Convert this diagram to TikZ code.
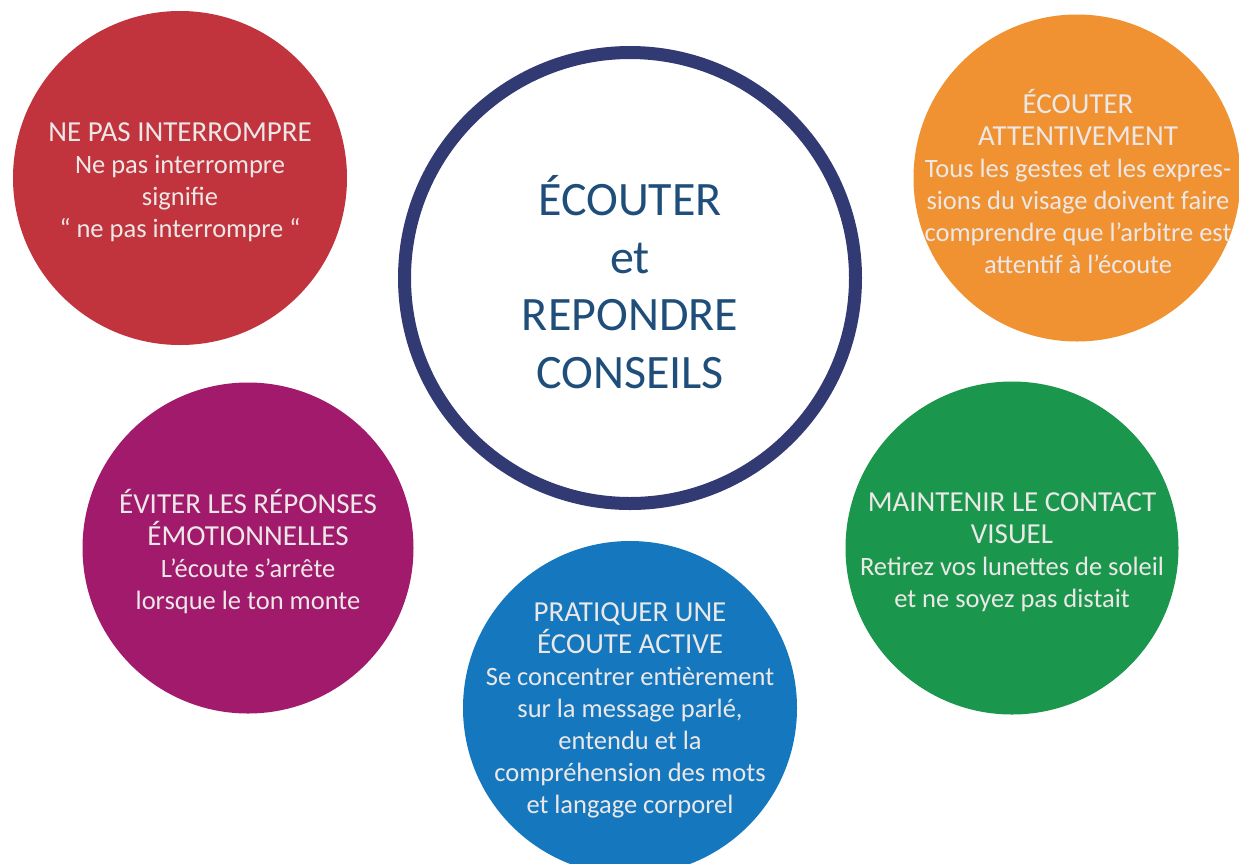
\documentclass[tikz,border=0pt]{standalone}
\usepackage{fontspec}
\setmainfont{Carlito}
\definecolor{cred}{HTML}{C1343D}
\definecolor{corange}{HTML}{F09231}
\definecolor{cpurple}{HTML}{A11A6C}
\definecolor{cgreen}{HTML}{1A974C}
\definecolor{cblue}{HTML}{1578BE}
\definecolor{cring}{HTML}{313A73}
\definecolor{ctitle}{HTML}{1F4E7A}
\definecolor{ctext}{HTML}{ECE8E8}
\newcommand{\tsz}{\fontsize{29}{34.5}\selectfont}
\newcommand{\bsz}{\fontsize{26.5}{32}\selectfont}
\begin{document}
\begin{tikzpicture}[x=1pt,y=-1pt,
  disc/.style={circle,inner sep=0pt,minimum size=#1},
  bubbletext/.style={text=ctext,align=center,inner sep=0pt,font=\bsz},
  centertext/.style={text=ctitle,align=center,inner sep=0pt,font=\fontsize{48}{57.5}\selectfont}]
\useasboundingbox (0,0) rectangle (1239,863);
\fill[white] (0,0) rectangle (1239,863);
% discs
\node[disc=334pt,fill=cred] (red) at (180,178) {};
\node[disc=327pt,fill=corange] (orange) at (1077,178) {};
\node[disc=331pt,fill=cpurple] (purple) at (248,548) {};
\node[disc=333pt,fill=cgreen] (green) at (1012,548) {};
\node[disc=334pt,fill=cblue] (blue) at (630,708) {};
\node[disc=451pt,draw=cring,line width=13pt,fill=white] (center) at (630,278) {};
% texts
\node[centertext] (ct) at (630,282) {ÉCOUTER\\et\\REPONDRE\\CONSEILS};
\node[bubbletext] (rt) at (180,182) {\tsz NE PAS INTERROMPRE\\Ne pas interrompre\\signifie\\“ ne pas interrompre “};
\node[bubbletext] (ot) at (1078,181) {\tsz ÉCOUTER\\\tsz ATTENTIVEMENT\\Tous les gestes et les expres-\\sions du visage doivent faire\\comprendre que l’arbitre est\\attentif à l’écoute};
\node[bubbletext] (pt) at (248,552) {\tsz ÉVITER LES RÉPONSES\\\tsz ÉMOTIONNELLES\\L’écoute s’arrête\\lorsque le ton monte};
\node[bubbletext] (gt) at (1012,552) {\tsz MAINTENIR LE CONTACT\\\tsz VISUEL\\Retirez vos lunettes de soleil\\et ne soyez pas distait};
\node[bubbletext] (bt) at (630,710) {\tsz PRATIQUER UNE\\\tsz ÉCOUTE ACTIVE\\Se concentrer entièrement\\sur la message parlé,\\entendu et la\\compréhension des mots\\et langage corporel};
\end{tikzpicture}
\end{document}
